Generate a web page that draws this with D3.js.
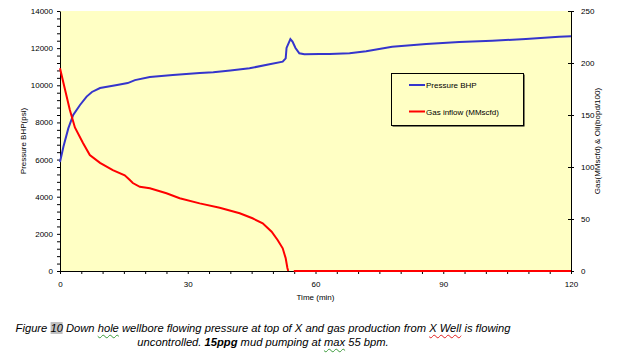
<!DOCTYPE html>
<html>
<head>
<meta charset="utf-8">
<script src="https://cdn.jsdelivr.net/npm/d3@7"></script>
<style>
  body { margin: 0; background: #fff; }
  #chart { position: absolute; left: 0; top: 0; }
  #caption {
    position: absolute; left: 263px; top: 321px; transform: translateX(-50%);
    white-space: nowrap; text-align: center;
    font: italic 11.2px "Liberation Sans", Arial, sans-serif;
    line-height: 14px; color: #000;
  }
  .hl { background: #c0c0c0; }
  .sq-g { text-decoration: underline wavy #3a9a3a; text-decoration-thickness: 1px; text-underline-offset: 2px; }
  .sq-r { text-decoration: underline wavy #e02020; text-decoration-thickness: 1px; text-underline-offset: 2px; }
</style>
</head>
<body>
<div id="chart"></div>
<div id="caption">Figure <span class="hl">10</span> Down <span class="sq-g">hole</span> wellbore flowing pressure at top of X and gas production from <span class="sq-r">X Well</span> is flowing<br>uncontrolled. <b>15ppg</b> mud pumping at <span class="sq-g">max</span> 55 bpm.</div>
<script>
// pressure BHP (psi) vs time (min)
const pressureTime = [0, 0.8, 1.95, 3.1, 4.7, 6.25, 7.5, 9.4, 13.4, 15.9, 17.6, 21.1, 26.5, 32.8, 36, 40, 44.5, 49.2, 52.3, 53.0, 53.2, 54.1, 54.6, 55.3, 56.2, 57.4, 60.9, 63.3, 68, 71.9, 78, 86, 93.75, 101.5, 109.4, 117.2, 120];
const pressureBHP = [5870, 6690, 7680, 8400, 8940, 9390, 9640, 9850, 10015, 10120, 10280, 10450, 10550, 10660, 10700, 10800, 10915, 11130, 11270, 11450, 12010, 12490, 12350, 12010, 11720, 11670, 11690, 11690, 11720, 11830, 12080, 12225, 12330, 12400, 12490, 12615, 12640];

// gas inflow (MMscfd) vs time (min); null = gap in the line
const gasTime = [0, 1.2, 2.3, 3.5, 5.4, 7, 9.4, 12.4, 15.2, 16.4, 17.1, 18.75, 21.1, 25, 28.1, 32.8, 37.5, 42.2, 45.2, 47.6, 49.7, 51.1, 52.3, 53.0, 53.4, 53.6, 54.2, 54.9, 120];
const gasInflow = [195, 174, 155, 138, 123, 111.5, 104, 97, 92, 87.5, 84.6, 81, 79.5, 74.7, 70, 65, 60.9, 55.5, 50.7, 45.9, 37.8, 29.8, 21.8, 12.2, 2.9, 0, null, 0, 0];

const xTicks = [0, 30, 60, 90, 120];
const leftTicks = [0, 2000, 4000, 6000, 8000, 10000, 12000, 14000];
const rightTicks = [0, 50, 100, 150, 200, 250];
const legendItems = ["Pressure  BHP", "Gas inflow (MMscfd)"];
const colors = ["#3535cc", "#ff0000"];

const width = 617, height = 361;
const margin = { top: 11, right: 46, bottom: 90, left: 60 };
const font = '"Liberation Sans", Arial, sans-serif';

const x = d3.scaleLinear().domain([0, 120]).range([margin.left, width - margin.right]);
const yL = d3.scaleLinear().domain([0, 14000]).range([height - margin.bottom, margin.top]);
const yR = d3.scaleLinear().domain([0, 250]).range([height - margin.bottom, margin.top]);

const svg = d3.create("svg")
  .attr("width", width)
  .attr("height", height)
  .attr("viewBox", [0, 0, width, height]);

// plot background
svg.append("rect")
  .attr("x", x(0)).attr("y", yL(14000))
  .attr("width", x(120) - x(0)).attr("height", yL(0) - yL(14000))
  .attr("fill", "#ffffc4");

// left axis
svg.append("g")
  .attr("transform", `translate(${x(0)},0)`)
  .call(d3.axisLeft(yL).tickValues(d3.range(0, 14001, 400)).tickSize(3).tickSizeOuter(0)
    .tickFormat((d) => (leftTicks.includes(d) ? d : "")))
  .call((g) => g.selectAll("text").attr("dx", "-1"));

// right axis
svg.append("g")
  .attr("transform", `translate(${x(120)},0)`)
  .call(d3.axisRight(yR).tickValues(rightTicks).tickSize(3).tickSizeOuter(0).tickPadding(7))
  .call((g) => g.selectAll(".tick line").attr("x1", -3));

// bottom axis
svg.append("g")
  .attr("transform", `translate(0,${yL(0)})`)
  .call(d3.axisBottom(x).tickValues(d3.range(0, 121, 5)).tickSize(3).tickSizeOuter(0).tickPadding(7)
    .tickFormat((d) => (xTicks.includes(d) ? d : "")));

svg.selectAll(".tick text").attr("font-family", font).attr("font-size", 8).attr("fill", "#000");
svg.selectAll(".domain, .tick line").attr("stroke", "#000");

// axis titles
svg.append("text")
  .attr("x", (x(0) + x(120)) / 2).attr("y", 300)
  .attr("text-anchor", "middle")
  .attr("font-family", font).attr("font-size", 8)
  .text("Time (min)");

svg.append("text")
  .attr("transform", `translate(26,${(yL(0) + yL(14000)) / 2}) rotate(-90)`)
  .attr("text-anchor", "middle")
  .attr("font-family", font).attr("font-size", 8)
  .text("Pressure BHP(psi)");

svg.append("text")
  .attr("transform", `translate(600,${(yL(0) + yL(14000)) / 2}) rotate(-90)`)
  .attr("text-anchor", "middle")
  .attr("font-family", font).attr("font-size", 8)
  .text("Gas(MMscfd) & Oil(bopd/100)");

// lines
const pressureLine = d3.line()
  .x((d, i) => x(pressureTime[i]))
  .y((d) => yL(d));

const gasLine = d3.line()
  .defined((d) => d !== null)
  .x((d, i) => x(gasTime[i]))
  .y((d) => yR(d));

svg.append("path")
  .attr("fill", "none")
  .attr("stroke", colors[0])
  .attr("stroke-width", 2)
  .attr("d", pressureLine(pressureBHP));

svg.append("path")
  .attr("fill", "none")
  .attr("stroke", colors[1])
  .attr("stroke-width", 2)
  .attr("d", gasLine(gasInflow));

// legend
const legend = svg.append("g").attr("transform", "translate(391,73)");
legend.append("rect")
  .attr("x", 1.5).attr("y", 1.5).attr("width", 132).attr("height", 52)
  .attr("fill", "#000");
legend.append("rect")
  .attr("x", 0.5).attr("y", 0.5).attr("width", 132).attr("height", 52)
  .attr("fill", "#ffffc4").attr("stroke", "#000");

legendItems.forEach((name, i) => {
  const ly = 12 + i * 26.5;
  legend.append("line")
    .attr("x1", 18).attr("x2", 34).attr("y1", ly).attr("y2", ly)
    .attr("stroke", colors[i]).attr("stroke-width", 2);
  legend.append("text")
    .attr("x", 35).attr("y", ly + 3)
    .attr("font-family", font).attr("font-size", 8)
    .text(name);
});

document.getElementById("chart").append(svg.node());
</script>
</body>
</html>
